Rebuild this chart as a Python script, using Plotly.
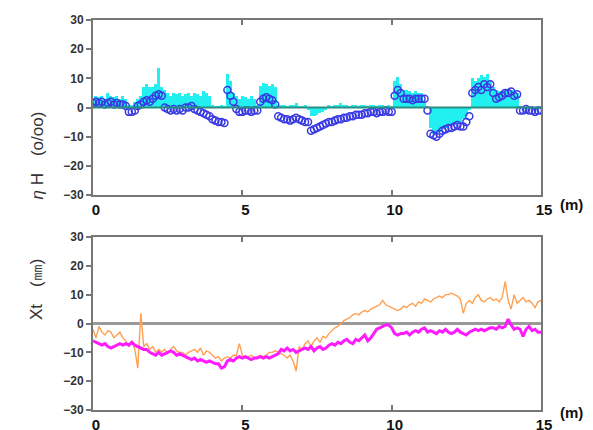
import plotly.graph_objects as go

# distance along track (m), 0.1 m step
x_m = [round(i * 0.1, 1) for i in range(151)]

# eta H (o/oo) - circles (smoothed)
eta_circles = [
    1.5, 2, 1.5, 2, 1, 1.5, 2, 1, 1.5, 1,
    1, 0.5, -1.5, -1.5, -1, 0.5, 1, 2, 2.5, 2,
    3, 4, 4.5, 4, 0, -0.5, -1, -0.5, -1, -0.5,
    -1, 0, 0, 0.5, -0.5, -1, -1.5, -2, -2.5, -3,
    -4, -4.5, -5, -5, -5.3, 6, 4, 2, -0.5, -1.5,
    -1.5, -1, -1, -1.5, -1, -1, 2, 3, 3.5, 3,
    2.5, 1, -3, -3.5, -4, -4, -4.5, -4, -3.5, -4,
    -4.5, -5, -5, -8, -7.5, -7, -6.5, -6, -5.5, -5,
    -5, -4.5, -4, -4, -3.5, -3.5, -3, -3, -2.5, -2.5,
    -2.5, -2, -2, -1.5, -1.5, -2, -1.5, -1.5, -1, -1.5,
    -1.5, 4, 6, 5, 3, 3, 3, 2.5, 3, 3,
    3, 3, -1, -9, -9.5, -10, -9, -8, -7.5, -7,
    -7, -6.5, -6, -6.5, -6.5, -5, -3, 5, 6, 7,
    6, 8, 7, 8, 5, 3, 3.5, 4, 5, 5,
    5.5, 4, 4.5, -1, -1, -0.5, -1, -1, -1.5, -1,
    -1,
]

# eta H (o/oo) - raw values (cyan fill)
eta_raw = [
    3, 4, 3.5, 4, 3, 5, 4, 3.5, 4, 3,
    4, 3, 1, 1, 2, 3, 4, 7, 8, 7,
    7, 8, 13.5, 7, 6, 5, 4, 5, 4.5, 5,
    4, 4.5, 5, 4, 5, 4.5, 4, 5.5, 5, 4,
    1, 0.5, 0.5, 1, 0.5, 11.5, 9, 5, 4, 3,
    4, 3.5, 3, 4, 3, 1, 7.5, 8.5, 8, 7.5,
    8, 7, 1, 1, 1, 0.5, 1, 1, 1.5, 0.5,
    0.5, 1, -1, -3, -3, -2.5, -2, -1.5, -1, 1,
    0.5, 1, 1, 1.5, 1, 1, 0.5, 1, 1, 0.5,
    1, 1, 0.5, 1, 1, 0.5, 1, 1, 0.5, 1,
    0.5, 9, 10.5, 8, 6, 6, 5.5, 5, 5.5, 5,
    5, 2, 0, -7, -9, -9, -8.5, -7.5, -7, -6.5,
    -6, -6, -5.5, -5, -4, -3, -1, 10, 9, 10,
    11, 10.5, 11.5, 9, 7, 6, 5.5, 6, 6.5, 6,
    6, 5.5, 5, 0, -0.5, -1, -0.5, -1, -1, -0.5,
    -0.5,
]

# Xt (mm) - magenta
xt_magenta = [
    -6, -6.5, -7, -7.5, -7, -8, -8.5, -8, -7.5, -7,
    -7.5, -7, -7.5, -6.5, -7.5, -8, -8.5, -9, -9, -10,
    -10.5, -11, -10, -11, -10.5, -10, -9.5, -10, -11, -10.5,
    -11, -11.5, -12, -12.5, -12, -13, -12.5, -13, -13.5, -13,
    -13.5, -14, -14, -15.5, -15, -13, -12.5, -13, -12, -11.5,
    -12, -11.5, -12, -12.5, -12, -12, -11.5, -12, -11.5, -12,
    -11.5, -11, -10.5, -9, -9.5, -8.5, -9.5, -9, -10, -9.5,
    -9, -8.5, -9, -8, -9.5, -8.5, -8, -9, -8.5, -7.5,
    -7, -7.5, -6.5, -7, -6, -5.5, -6.5, -7, -5.5, -6,
    -5, -4, -6, -5, -3.5, -2, -1.5, -1, -0.5, -0.5,
    -1.5, -3.5, -4, -3.5, -3.5, -3, -4, -3, -2.5, -3,
    -2, -1.5, -3, -2.5, -3, -3.5, -2.5, -3, -2, -3,
    -3.5, -3, -2, -3, -3.5, -4, -3, -2.5, -2, -2.5,
    -2, -2.5, -2, -1.5, -1.5, -2, -1, -1.5, -1, 1.5,
    -0.5, -2, -1.5, -2, -4.5, -2, -1, -2.5, -2, -3,
    -3,
]

# Xt (mm) - orange
xt_orange = [
    -2, -5, -1, -3, -4, -2.5, -3, -5, -4, -3,
    -5, -6, -8, -6, -9, -15.5, 3.5, -8, -7, -9,
    -8, -10, -9, -10, -9, -10.5, -9, -8, -9.5, -10,
    -10, -11, -10, -9.5, -9, -10, -8.5, -11, -9.5, -10,
    -11, -12, -11.5, -13, -12, -11.5, -12, -11, -11, -7,
    -11, -12, -11.5, -11, -12, -11.5, -11, -11.5, -11, -10,
    -10, -9.5, -10, -10.5, -11, -12, -11, -13, -16.5, -8,
    -9, -7, -6, -8, -6, -5, -6.5, -4.5, -5, -3.5,
    -2.5, -1.5, -1, 0, 1, 1.5, 2, 3, 3.5, 3,
    4, 4.5, 4, 5, 5.5, 6, 6.5, 8, 6.5, 6,
    5.5, 5, 4.5, 5, 6, 5.5, 6.5, 7, 6, 7.5,
    7, 8.5, 8, 7.5, 8.5, 9, 9.5, 9, 10, 10,
    10.5, 10, 9.5, 8.5, 3.5, 7, 8, 7, 9, 10,
    8, 7.5, 8.5, 9, 8, 8.5, 7.5, 9, 14.5, 8,
    5, 10, 7, 8, 9, 7.5, 8, 7, 5.5, 7.5,
    8,
]

y_ticks = [-30, -20, -10, 0, 10, 20, 30]
x_ticks = [0, 5, 10, 15]
x_ticklabels = ["0", "5", "10", "15"]

fig = go.Figure()

fig.add_trace(go.Bar(x=x_m, y=eta_raw, width=0.1, marker=dict(color="#22f0f0", line=dict(width=0)),
                     xaxis="x", yaxis="y", showlegend=False))
fig.add_trace(go.Scatter(x=x_m, y=eta_circles, mode="markers",
                         marker=dict(symbol="circle-open", size=7, color="#3a3ae4", line=dict(width=1.5)),
                         xaxis="x", yaxis="y", showlegend=False))
fig.add_trace(go.Scatter(x=x_m, y=xt_orange, mode="lines", line=dict(color="#ffa050", width=1.4),
                         xaxis="x2", yaxis="y2", showlegend=False))
fig.add_trace(go.Scatter(x=x_m, y=xt_magenta, mode="lines", line=dict(color="#ff1aff", width=3),
                         xaxis="x2", yaxis="y2", showlegend=False))

xdom = [93 / 593, 541 / 593]
common_x = dict(range=[0, 15], tickmode="array", tickvals=x_ticks, ticktext=x_ticklabels,
                ticks="inside", ticklen=5, tickcolor="#777", tickwidth=2, ticklabelshift=3,
                showline=True, linecolor="#777", linewidth=2, mirror="allticks",
                showgrid=False, zeroline=False, domain=xdom, automargin=False,
                tickfont=dict(family="Liberation Sans", size=15, color="#111", weight="bold"))
common_y = dict(range=[-30, 30], tickmode="array", tickvals=y_ticks,
                ticks="outside", ticklen=5, tickcolor="#777", tickwidth=2,
                showline=True, linecolor="#777", linewidth=2, mirror=True,
                showgrid=False, zeroline=False, automargin=False,
                tickfont=dict(family="Liberation Sans", size=12, color="#333", weight="bold"))

fig.update_layout(
    template="none",
    width=593, height=430, margin=dict(l=0, r=0, t=0, b=0, autoexpand=False),
    paper_bgcolor="white", plot_bgcolor="white", bargap=0,
    xaxis=dict(**common_x, anchor="y"),
    yaxis=dict(**common_y, domain=[1 - 195 / 430, 1 - 20 / 430], anchor="x"),
    xaxis2=dict(**common_x, anchor="y2"),
    yaxis2=dict(**common_y, domain=[1 - 410 / 430, 1 - 237 / 430], anchor="x2"),
    shapes=[
        dict(type="line", xref="x", yref="y", x0=0, x1=15, y0=0, y1=0,
             line=dict(color="#2a8f80", width=2), layer="above"),
        dict(type="line", xref="x2", yref="y2", x0=0, x1=15, y0=0, y1=0,
             line=dict(color="#999999", width=3), layer="below"),
    ],
    annotations=[
        dict(text="<i>η</i> H　(o/oo)", xref="paper", yref="paper", x=25 / 593, y=1 - 110 / 430,
             textangle=-90, showarrow=False, font=dict(family="Liberation Sans", size=17, color="#333")),
        dict(text="Xt　(㎜)", xref="paper", yref="paper", x=25 / 593, y=1 - 322 / 430,
             textangle=-90, showarrow=False, font=dict(family="Liberation Sans", size=17, color="#333")),
        dict(text="(m)", xref="paper", yref="paper", x=571 / 593, y=1 - 205 / 430, xanchor="center",
             showarrow=False, font=dict(family="Liberation Sans", size=15, color="#111", weight="bold")),
        dict(text="(m)", xref="paper", yref="paper", x=571 / 593, y=1 - 423 / 430, xanchor="center",
             showarrow=False, font=dict(family="Liberation Sans", size=15, color="#111", weight="bold")),
    ],
)

fig.write_html("out.html", config={"displayModeBar": False},
               post_script="document.body.style.margin='0';document.body.style.overflow='hidden';")
